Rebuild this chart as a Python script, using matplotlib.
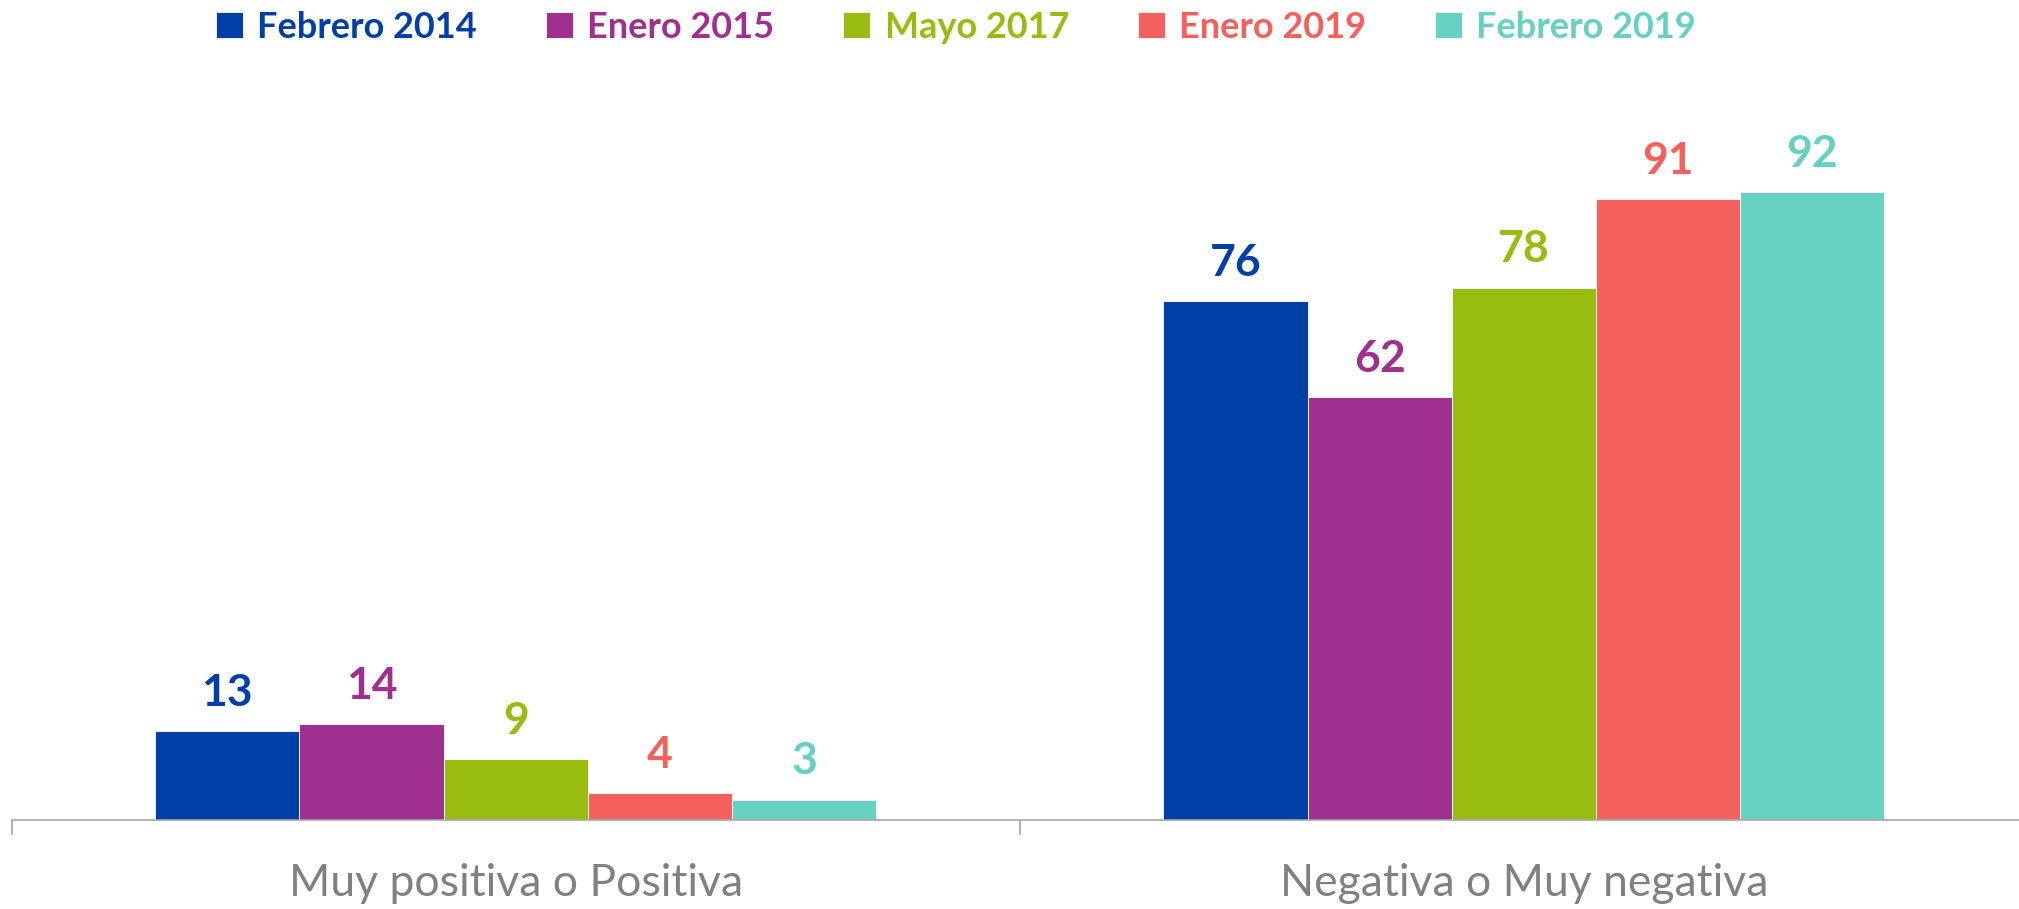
import matplotlib.pyplot as plt
import numpy as np

categories = ["Muy positiva o Positiva", "Negativa o Muy negativa"]
series = ["Febrero 2014", "Enero 2015", "Mayo 2017", "Enero 2019", "Febrero 2019"]
values = [
    [13, 76],
    [14, 62],
    [9, 78],
    [4, 91],
    [3, 92],
]
colors = ["#003FA6", "#A0308F", "#98BC0F", "#F4615D", "#66D0C1"]

plt.rcParams["font.family"] = ["Lato", "DejaVu Sans"]

fig = plt.figure(figsize=(20.19, 9.09), dpi=100)
ax = fig.add_axes([0.00575, 0.0979, 0.9987, 0.751])

x = np.arange(len(categories))
width = 0.143
handles = []
for i, (name, vals, c) in enumerate(zip(series, values, colors)):
    pos = x + (i - 2) * width
    bars = ax.bar(pos, vals, width, color=c, label=name, edgecolor="white", linewidth=0.6)
    handles.append(bars)
    ax.bar_label(bars, padding=13, fontsize=32, fontweight="bold", color=c)

ax.set_xlim(-0.5, 1.5)
ax.set_ylim(0, 100)
ax.set_yticks([])
for s in ["top", "right", "left"]:
    ax.spines[s].set_visible(False)
ax.spines["bottom"].set_color("#a6a6a6")
ax.spines["bottom"].set_linewidth(1.2)

ax.set_xticks(x)
ax.set_xticklabels(categories, fontsize=32, color="#808080")
ax.tick_params(axis="x", which="major", length=0, pad=31)
ax.set_xticks([-0.5, 0.5, 1.5], minor=True)
ax.tick_params(axis="x", which="minor", length=11, color="#a6a6a6", width=1.2)

leg = fig.legend(
    handles=handles, labels=series, loc="center", bbox_to_anchor=(0.4735, 0.970),
    ncol=5, frameon=False, fontsize=26, handlelength=0.75, handleheight=0.75,
    handletextpad=0.4, columnspacing=1.9,
)
for t, c in zip(leg.get_texts(), colors):
    t.set_color(c)
    t.set_fontweight("bold")

fig.savefig("out.png", dpi=100)
